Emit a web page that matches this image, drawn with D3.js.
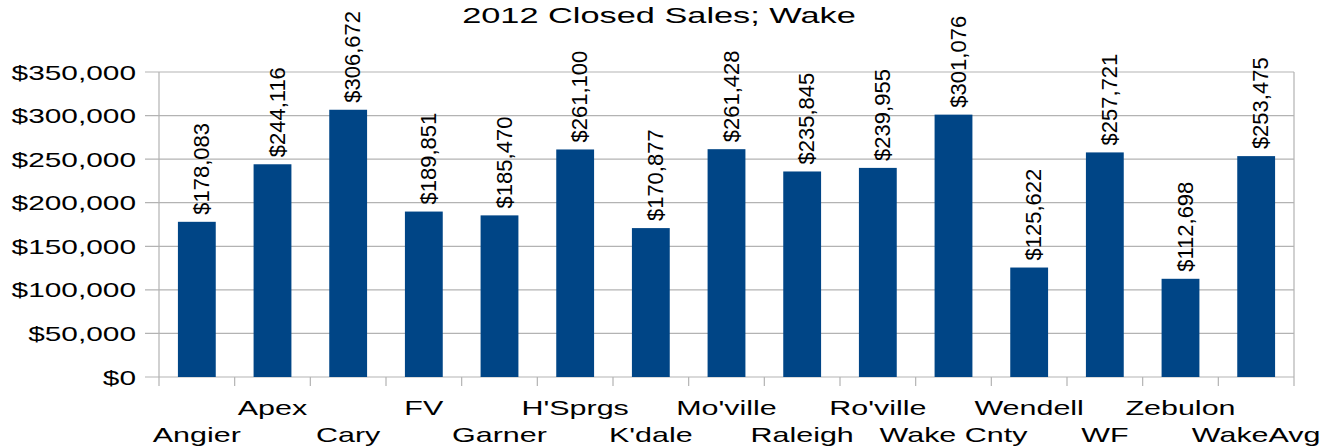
<!DOCTYPE html>
<html>
<head>
<meta charset="utf-8">
<script src="https://cdn.jsdelivr.net/npm/d3@7"></script>
<style>
  body { margin: 0; background: white; }
  text { font-family: "Liberation Sans", Arial, sans-serif; fill: #000; }
</style>
</head>
<body>
<svg id="chart"></svg>
<script>
// chart data
const categories = ["Angier", "Apex", "Cary", "FV", "Garner", "H'Sprgs", "K'dale", "Mo'ville",
    "Raleigh", "Ro'ville", "Wake Cnty", "Wendell", "WF", "Zebulon", "WakeAvg"];
const sales = [178083, 244116, 306672, 189851, 185470, 261100, 170877, 261428,
    235845, 239955, 301076, 125622, 257721, 112698, 253475];
const yTicks = [0, 50000, 100000, 150000, 200000, 250000, 300000, 350000];
const title = "2012 Closed Sales; Wake";

const width = 1335, height = 447;
const margin = {top: 72, right: 41, bottom: 70, left: 159};

const svg = d3.select("#chart").attr("width", width).attr("height", height);

const x = d3.scaleBand()
    .domain(categories)
    .range([margin.left, width - margin.right])
    .paddingInner(0.5)
    .paddingOuter(0.25);

const y = d3.scaleLinear()
    .domain([0, 350000])
    .range([height - margin.bottom, margin.top]);

const money = d => "$" + d3.format(",")(d);

// the source stretches horizontal text sideways
function stretch(sel, k) {
    sel.each(function () {
        let len = this.getComputedTextLength();
        d3.select(this).attr("textLength", len * k).attr("lengthAdjust", "spacingAndGlyphs");
    });
}

// grid lines
svg.append("g")
    .selectAll("line")
    .data(yTicks)
    .enter().append("line")
    .attr("x1", margin.left - 14)
    .attr("x2", width - margin.right)
    .attr("y1", d => y(d))
    .attr("y2", d => y(d))
    .attr("stroke", "#b3b3b3")
    .attr("stroke-width", 1.2);

// plot frame sides
svg.append("line")
    .attr("x1", margin.left).attr("x2", margin.left)
    .attr("y1", y(350000)).attr("y2", y(0) + 9)
    .attr("stroke", "#b3b3b3").attr("stroke-width", 1.2);
svg.append("line")
    .attr("x1", width - margin.right).attr("x2", width - margin.right)
    .attr("y1", y(350000)).attr("y2", y(0) + 9)
    .attr("stroke", "#b3b3b3").attr("stroke-width", 1.2);

// x ticks between categories
const step = x.step();
svg.append("g")
    .selectAll("line")
    .data(categories.slice(1))
    .enter().append("line")
    .attr("x1", d => x(d) - step * 0.25)
    .attr("x2", d => x(d) - step * 0.25)
    .attr("y1", y(0))
    .attr("y2", y(0) + 9)
    .attr("stroke", "#b3b3b3")
    .attr("stroke-width", 1.2);

// y labels
svg.append("g")
    .selectAll("text")
    .data(yTicks)
    .enter().append("text")
    .attr("x", 136)
    .attr("y", d => y(d))
    .attr("dy", "0.36em")
    .attr("text-anchor", "end")
    .style("font-size", "21px")
    .text(money)
    .call(stretch, 1.42);

// bars
svg.append("g")
    .selectAll("rect")
    .data(sales)
    .enter().append("rect")
    .attr("x", (d, i) => x(categories[i]))
    .attr("width", x.bandwidth())
    .attr("y", d => y(d))
    .attr("height", d => y(0) - y(d))
    .attr("fill", "#004586");

// value labels, rotated
svg.append("g")
    .selectAll("text")
    .data(sales)
    .enter().append("text")
    .attr("transform", (d, i) => {
        let cx = x(categories[i]) + x.bandwidth() / 2 + 12;
        return "translate(" + cx + "," + (y(d) - 7) + ") rotate(-90)";
    })
    .attr("text-anchor", "start")
    .style("font-size", "22px")
    .text(money);

// category labels, staggered in two rows
svg.append("g")
    .selectAll("text")
    .data(categories)
    .enter().append("text")
    .attr("x", d => x(d) + x.bandwidth() / 2)
    .attr("y", (d, i) => i % 2 === 0 ? 442 : 415)
    .attr("text-anchor", "middle")
    .style("font-size", "21px")
    .text(d => d)
    .call(stretch, 1.45);

// title
svg.append("text")
    .attr("x", 659)
    .attr("y", 23)
    .attr("text-anchor", "middle")
    .style("font-size", "22px")
    .text(title)
    .call(stretch, 1.56);
</script>
</body>
</html>
